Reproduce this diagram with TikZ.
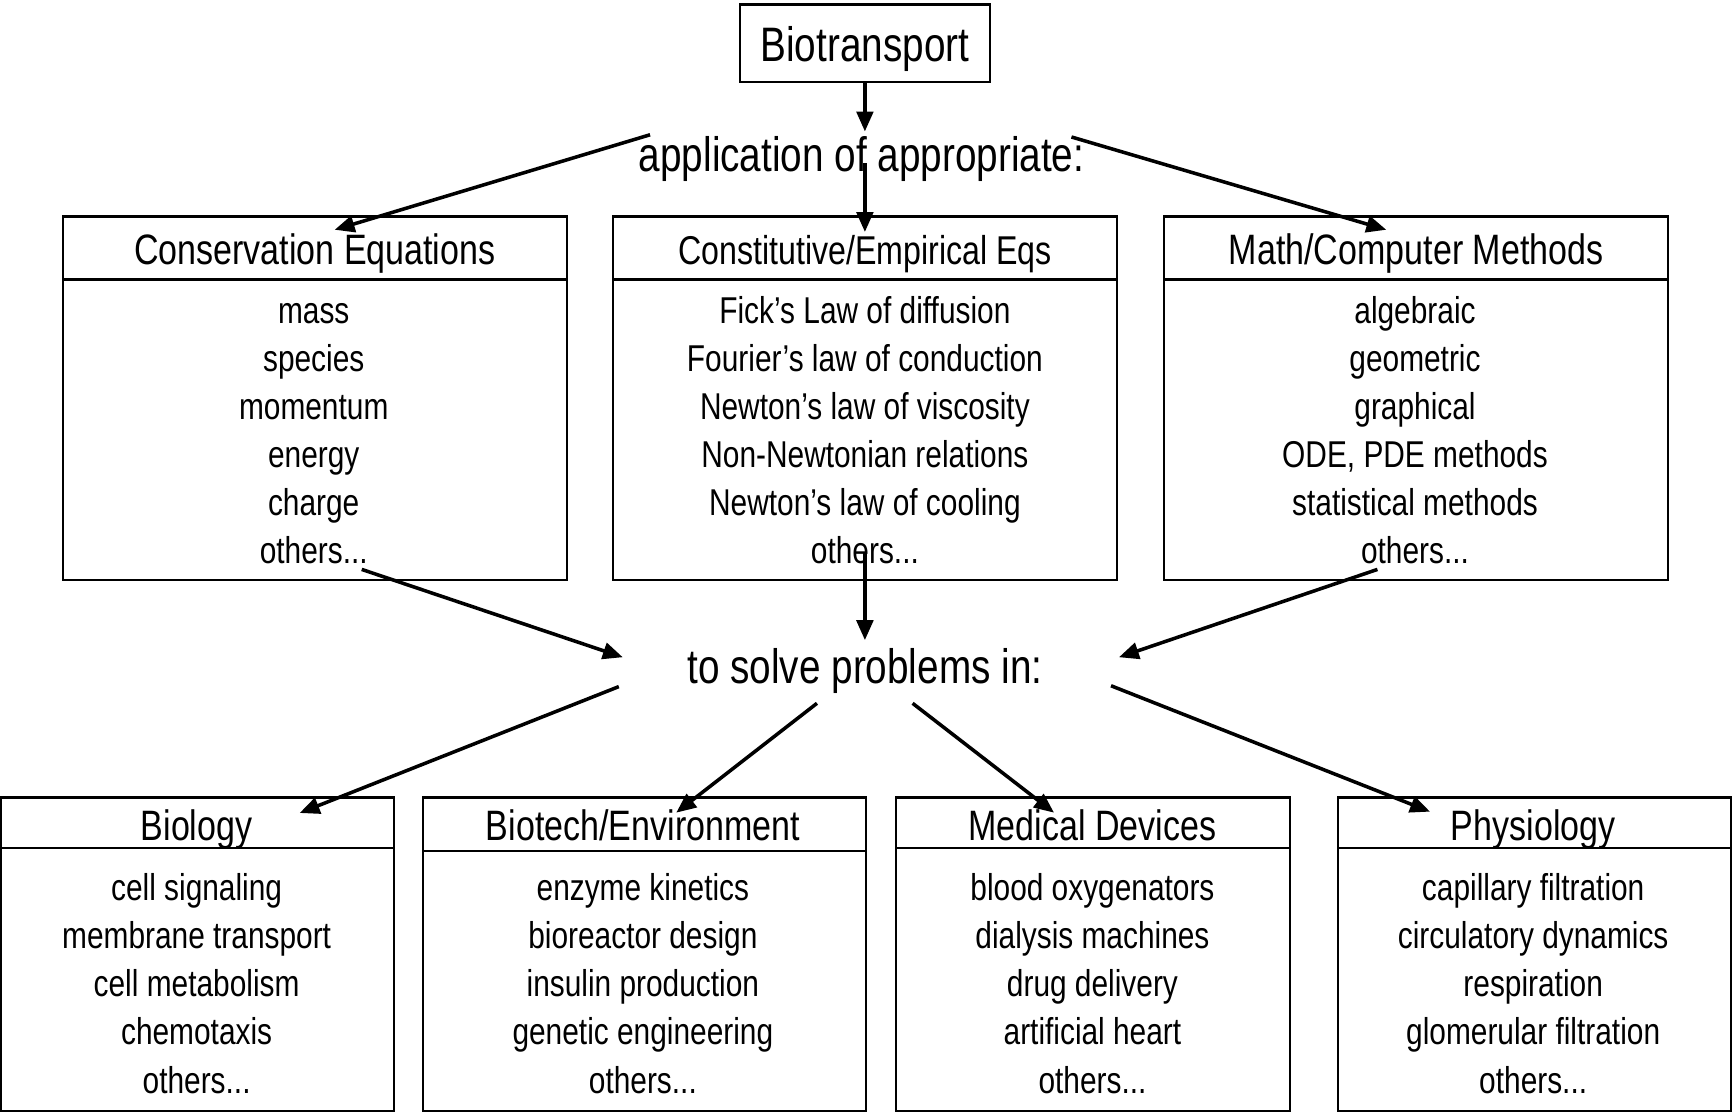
\documentclass[tikz,border=0pt]{standalone}
\usepackage{fontspec}
\setmainfont{Liberation Sans}[FakeStretch=0.8]
\usetikzlibrary{arrows.meta}
\newcommand\othersdots{others...}
\begin{document}
\begin{tikzpicture}[x=0.5pt,y=-0.5pt,
  box/.style={draw, line width=1pt, inner sep=0pt, outer sep=0pt},
  big/.style={font=\fontsize{21.9}{26}\selectfont, inner sep=0pt, anchor=base},
  ttl/.style={font=\fontsize{19.25}{23}\selectfont, inner sep=0pt, anchor=base},
  itm/.style={font=\fontsize{16.9}{20}\selectfont, inner sep=0pt, anchor=base},
  arr/.style={line width=1.6pt, -{Triangle[length=9pt,width=7.5pt]}},
  divider/.style={line width=1pt}]
\useasboundingbox (0,0) rectangle (1568,1007);

% ---- top
\node[box, minimum width=113pt, minimum height=35pt] (bio) at (783,39) {};
\node[big] (biot) at (783,56) {Biotransport};
\node[big] (app) at (780,155) {application of appropriate:};

% ---- middle row boxes
\node[box, minimum width=228pt, minimum height=164.5pt] (cons) at (285,360.5) {};
\node[box, minimum width=228pt, minimum height=164.5pt] (const) at (783,360.5) {};
\node[box, minimum width=228pt, minimum height=164.5pt] (math) at (1282,360.5) {};
\foreach \b in {cons,const,math}
  \draw[divider] ([yshift=-28.5pt]\b.north west) -- ([yshift=-28.5pt]\b.north east);

\node[ttl] (consT) at (285,239) {Conservation Equations};
\node[ttl, font=\fontsize{18.2}{22}\selectfont] (constT) at (783,239) {Constitutive/Empirical Eqs};
\node[ttl] (mathT) at (1282,239) {Math/Computer Methods};

\foreach \t [count=\i from 0] in {mass,species,momentum,energy,charge,\othersdots}
  \node[itm] (consI\i) at (284,{292.5+43.5*\i}) {\t};
\foreach \t [count=\i from 0] in {Fick’s Law of diffusion,Fourier’s law of conduction,Newton’s law of viscosity,Non-Newtonian relations,Newton’s law of cooling,\othersdots}
  \node[itm] (constI\i) at (783,{292.5+43.5*\i}) {\t};
\foreach \t [count=\i from 0] in {algebraic,geometric,graphical,{ODE, PDE methods},statistical methods,\othersdots}
  \node[itm] (mathI\i) at (1281,{292.5+43.5*\i}) {\t};

\node[big] (solve) at (783,618.5) {to solve problems in:};

% ---- bottom row boxes
\node[box, minimum width=177.75pt, minimum height=142pt] (biol) at (178.75,864) {};
\node[box, minimum width=200.35pt, minimum height=142pt] (btec) at (583.35,864) {};
\node[box, minimum width=178.25pt, minimum height=142pt] (med) at (989.75,864) {};
\node[box, minimum width=177.75pt, minimum height=142pt] (phys) at (1389.25,864) {};
\draw[divider] ([yshift=-22.75pt]biol.north west) -- ([yshift=-22.75pt]biol.north east);
\draw[divider] ([yshift=-24.25pt]btec.north west) -- ([yshift=-24.25pt]btec.north east);
\draw[divider] ([yshift=-23pt]med.north west) -- ([yshift=-23pt]med.north east);
\draw[divider] ([yshift=-23pt]phys.north west) -- ([yshift=-23pt]phys.north east);

\node[ttl] (biolT) at (178,761) {Biology};
\node[ttl] (btecT) at (582,761) {Biotech/Environment};
\node[ttl] (medT) at (989,761) {Medical Devices};
\node[ttl] (physT) at (1388,761) {Physiology};

\foreach \t [count=\i from 0] in {cell signaling,membrane transport,cell metabolism,chemotaxis,\othersdots}
  \node[itm] (biolI\i) at (178,{815.5+43.5*\i}) {\t};
\foreach \t [count=\i from 0] in {enzyme kinetics,bioreactor design,insulin production,genetic engineering,\othersdots}
  \node[itm] (btecI\i) at (582,{815.5+43.5*\i}) {\t};
\foreach \t [count=\i from 0] in {blood oxygenators,dialysis machines,drug delivery,artificial heart,\othersdots}
  \node[itm] (medI\i) at (989,{815.5+43.5*\i}) {\t};
\foreach \t [count=\i from 0] in {capillary filtration,circulatory dynamics,respiration,glomerular filtration,\othersdots}
  \node[itm] (physI\i) at (1388,{815.5+43.5*\i}) {\t};

% ---- connector end points
\coordinate (p1) at (783,119);
\coordinate (p2s) at (588.5,122);
\coordinate (p2e) at (303,208);
\coordinate (p3s) at (970,124);
\coordinate (p3e) at (1255,208);
\coordinate (p4s) at (783,148);
\coordinate (p4e) at (783,210);
\coordinate (q1s) at (327.5,515.5);
\coordinate (q1e) at (563.8,595);
\coordinate (q2s) at (783,500);
\coordinate (q2e) at (783,579.5);
\coordinate (q3s) at (1247,515.5);
\coordinate (q3e) at (1013,595);
\coordinate (r1s) at (560.2,621.6);
\coordinate (r1e) at (271.3,736);
\coordinate (r2s) at (739.6,636.7);
\coordinate (r2e) at (612.2,735.7);
\coordinate (r3s) at (826.2,636.7);
\coordinate (r3e) at (954.2,735.7);
\coordinate (r4s) at (1005.8,620.8);
\coordinate (r4e) at (1294.6,734.8);

% ---- connectors
\draw[arr] (bio.south) -- (p1);
\draw[arr] (p2s) -- (p2e);
\draw[arr] (p3s) -- (p3e);
\draw[arr] (p4s) -- (p4e);
\draw[arr] (q1s) -- (q1e);
\draw[arr] (q2s) -- (q2e);
\draw[arr] (q3s) -- (q3e);
\draw[arr] (r1s) -- (r1e);
\draw[arr] (r2s) -- (r2e);
\draw[arr] (r3s) -- (r3e);
\draw[arr] (r4s) -- (r4e);
\end{tikzpicture}
\end{document}
